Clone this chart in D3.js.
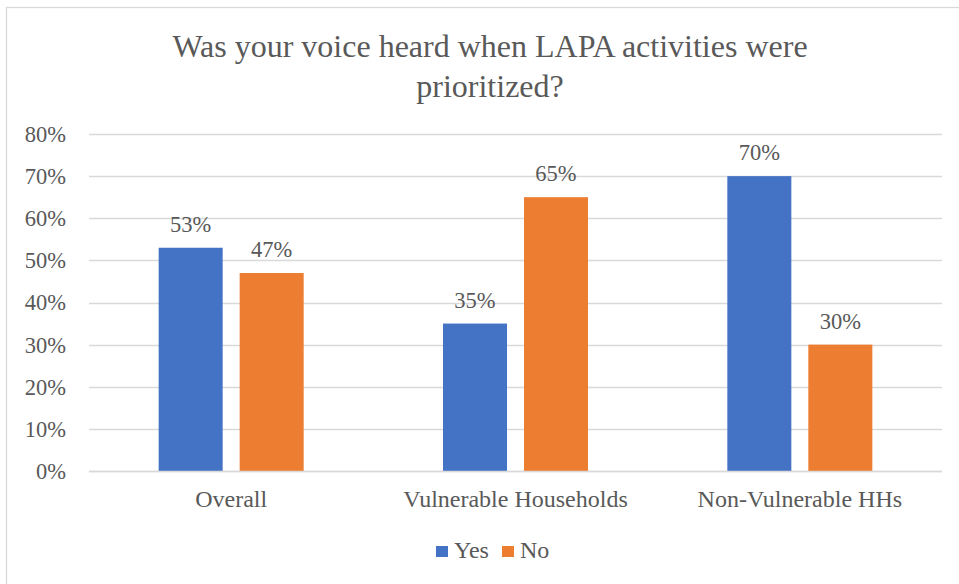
<!DOCTYPE html>
<html>
<head>
<meta charset="utf-8">
<script src="https://cdn.jsdelivr.net/npm/d3@7"></script>
<style>
  html, body { margin: 0; padding: 0; background: #fff; }
  svg { display: block; }
  svg text { font-family: "Liberation Serif", Tinos, "Times New Roman", "DejaVu Serif", serif !important; fill: #595959; }
</style>
</head>
<body>
<svg id="chart" width="959" height="584"></svg>
<script>
const categories = ["Overall", "Vulnerable Households", "Non-Vulnerable HHs"];
const seriesNames = ["Yes", "No"];
const yesValues = [53, 35, 70];
const noValues = [47, 65, 30];
const yTicks = [0, 10, 20, 30, 40, 50, 60, 70, 80];
const titleLines = ["Was your voice heard when LAPA activities were", "prioritized?"];
const colors = { Yes: "#4472C4", No: "#ED7D31" };

const FONT = '"Liberation Serif", Tinos, "Times New Roman", "DejaVu Serif", serif';
const data = categories.map((c, i) => ({ category: c, Yes: yesValues[i], No: noValues[i] }));

const svg = d3.select("#chart");
const W = 959, H = 584;
const plot = { left: 89, right: 942, top: 134, bottom: 471 };

// chart border
svg.append("rect")
  .attr("x", 6.5).attr("y", 7.5)
  .attr("width", W + 10).attr("height", H + 10)
  .attr("fill", "#fff").attr("stroke", "#d9d9d9").attr("stroke-width", 1.3);

// title
const title = svg.append("text").attr("text-anchor", "middle")
  .attr("font-family", FONT).style("font-size", "32px");
titleLines.forEach((t, i) => {
  title.append("tspan").attr("x", 490).attr("y", 57 + i * 39.5).text(t);
});

const y = d3.scaleLinear().domain([0, 80]).range([plot.bottom, plot.top]);
const x0 = d3.scaleBand().domain(categories).range([plot.left, plot.right]).padding(0);
const bw = x0.bandwidth();
const x1 = d3.scaleBand().domain(seriesNames).range([bw * 0.245, bw * 0.755]).paddingInner(17 / 81);

// gridlines
svg.append("g").selectAll("line").data(yTicks).join("line")
  .attr("x1", plot.left).attr("x2", plot.right)
  .attr("y1", d => Math.round(y(d)) + 0.5).attr("y2", d => Math.round(y(d)) + 0.5)
  .attr("stroke", "#d9d9d9").attr("stroke-width", 1.3);

// y axis labels
const yAxis = d3.axisLeft(y).tickValues(yTicks).tickFormat(d => d + "%").tickSize(0).tickPadding(0);
const yg = svg.append("g").attr("transform", `translate(${plot.left - 23},0)`).call(yAxis);
yg.attr("font-family", FONT);
yg.select(".domain").remove();
yg.selectAll("text").style("font-size", "22.5px").attr("fill", "#595959").attr("dy", "0.33em");

// bars
const groups = svg.append("g").selectAll("g").data(data).join("g")
  .attr("transform", d => `translate(${x0(d.category)},0)`);

groups.selectAll("rect").data(d => seriesNames.map(s => ({ s, v: d[s] }))).join("rect")
  .attr("x", d => x1(d.s))
  .attr("width", x1.bandwidth())
  .attr("y", d => y(d.v))
  .attr("height", d => y(0) - y(d.v))
  .attr("fill", d => colors[d.s]);

groups.selectAll("text.lbl").data(d => seriesNames.map(s => ({ s, v: d[s] }))).join("text")
  .attr("class", "lbl")
  .attr("x", d => x1(d.s) + x1.bandwidth() / 2)
  .attr("y", d => y(d.v) - 16)
  .attr("text-anchor", "middle")
  .attr("font-family", FONT)
  .style("font-size", "22.5px")
  .text(d => d.v + "%");

// x axis baseline
svg.append("line")
  .attr("x1", plot.left).attr("x2", plot.right)
  .attr("y1", Math.round(y(0)) + 0.5).attr("y2", Math.round(y(0)) + 0.5)
  .attr("stroke", "#d9d9d9").attr("stroke-width", 1.3);

// x axis labels
const xAxis = d3.axisBottom(x0).tickSize(0).tickPadding(0);
const xg = svg.append("g").attr("transform", `translate(0,${plot.bottom})`).call(xAxis);
xg.attr("font-family", FONT);
xg.select(".domain").remove();
xg.selectAll("text").style("font-size", "24px").attr("fill", "#595959")
  .attr("dy", null).attr("y", 36);

// legend
const legendX = [436, 502];
const legend = svg.append("g").attr("font-family", FONT).selectAll("g").data(seriesNames).join("g")
  .attr("transform", (d, i) => `translate(${legendX[i]},546)`);
legend.append("rect").attr("width", 12).attr("height", 11).attr("fill", d => colors[d]);
legend.append("text").attr("x", 18).attr("y", 12).style("font-size", "24px").text(d => d);
</script>
</body>
</html>
